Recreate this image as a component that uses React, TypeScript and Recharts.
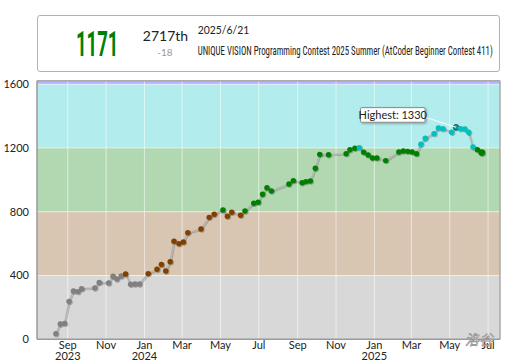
import React from "react";
import {
  LineChart,
  Line,
  XAxis,
  YAxis,
  ReferenceArea,
  ReferenceLine,
  ReferenceDot,
} from "recharts";

// ---------- data ----------
const contestDates = [
  "2023-08-13", "2023-08-20", "2023-08-27", "2023-09-03", "2023-09-10", "2023-09-17",
  "2023-09-23", "2023-10-14", "2023-10-21", "2023-11-05", "2023-11-12", "2023-11-18",
  "2023-11-25", "2023-12-02", "2023-12-10", "2023-12-17", "2023-12-24", "2024-01-07",
  "2024-01-21", "2024-01-28", "2024-02-04", "2024-02-11", "2024-02-17", "2024-02-25",
  "2024-03-03", "2024-03-10", "2024-03-31", "2024-04-13", "2024-04-21", "2024-05-05",
  "2024-05-12", "2024-05-19", "2024-06-02", "2024-06-09", "2024-06-23", "2024-06-30",
  "2024-07-07", "2024-07-14", "2024-07-21", "2024-08-18", "2024-08-25", "2024-09-08",
  "2024-09-14", "2024-09-21", "2024-09-29", "2024-10-06", "2024-10-20", "2024-11-17",
  "2024-11-23", "2024-12-01", "2024-12-08", "2024-12-15", "2024-12-22", "2024-12-29",
  "2025-01-05", "2025-01-19", "2025-02-09", "2025-02-16", "2025-02-23", "2025-03-02",
  "2025-03-09", "2025-03-16", "2025-03-23", "2025-04-06", "2025-04-13", "2025-04-20",
  "2025-05-04", "2025-05-11", "2025-05-18", "2025-05-25", "2025-05-31", "2025-06-07",
  "2025-06-14", "2025-06-21",
];

const ratings = [
  35, 96, 100, 238, 303, 299, 317, 322, 357, 353, 395, 378,
  397, 410, 345, 347, 347, 412, 439, 470, 428, 487, 615, 600,
  610, 669, 692, 765, 784, 811, 772, 797, 778, 805, 853, 860,
  910, 951, 930, 974, 995, 982, 989, 993, 1073, 1160, 1158, 1164,
  1189, 1198, 1202, 1173, 1156, 1137, 1137, 1121, 1175, 1181, 1179, 1175,
  1164, 1223, 1261, 1290, 1326, 1321, 1299, 1330, 1321, 1319, 1299, 1206,
  1189, 1171,
];

const bandBounds = [0, 400, 800, 1200, 1600, 2000];
const bandColors = ["#D8D8D8", "#D8C5B2", "#B2D8B2", "#B2ECEC", "#B2B2FF"];
const dotColors = ["#808080", "#804000", "#008000", "#00C0C0", "#0000FF"];
const yTicks = [0, 400, 800, 1200, 1600];
const monthTicks = [
  "2023-09-01", "2023-11-01", "2024-01-01", "2024-03-01", "2024-05-01", "2024-07-01",
  "2024-09-01", "2024-11-01", "2025-01-01", "2025-03-01", "2025-05-01", "2025-07-01",
];
const monthNames = ["Jan", "Feb", "Mar", "Apr", "May", "Jun", "Jul", "Aug", "Sep", "Oct", "Nov", "Dec"];

const headerRating = "1171";
const headerRank = "2717th";
const headerDiff = "-18";
const headerDate = "2025/6/21";
const headerContest = "UNIQUE VISION Programming Contest 2025 Summer (AtCoder Beginner Contest 411)";
const watermark = "洛谷";

const xStart = "2023-07-14";
const xEnd = "2025-07-20";
const yMax = 1622;

// ---------- helpers ----------
const DAY = 86400000;
const toDay = (s: string) => {
  const [y, m, d] = s.split("-").map(Number);
  return Date.UTC(y, m - 1, d) / DAY;
};

const data = contestDates.map((d, i) => ({ t: toDay(d), rating: ratings[i] }));
const tickDays = monthTicks.map(toDay);
const X_MIN = toDay(xStart);
const X_MAX = toDay(xEnd);

let highIdx = 0;
ratings.forEach((r, i) => {
  if (r > ratings[highIdx]) highIdx = i;
});

const colorFor = (r: number) => {
  for (let i = bandBounds.length - 2; i >= 0; i--) {
    if (r >= bandBounds[i]) return dotColors[i];
  }
  return dotColors[0];
};

const FONT = "Lato, 'DejaVu Sans', sans-serif";

const renderDot = (props: any) => {
  const { cx, cy, index, payload } = props;
  if (cx == null || cy == null) return <g key={`d${index}`} />;
  const isLast = index === data.length - 1;
  const isHigh = index === highIdx;
  return (
    <circle
      key={`d${index}`}
      cx={cx}
      cy={cy}
      r={isLast ? 3.4 : 2.7}
      fill={isHigh ? "#0E9E9E" : colorFor(payload.rating)}
      stroke={isHigh ? "#2a5555" : "none"}
      strokeWidth={isHigh ? 1 : 0}
      filter="url(#dotShadow)"
    />
  );
};

const XTick = (props: any) => {
  const { x, y, payload, index } = props;
  const dt = new Date(payload.value * DAY);
  const m = dt.getUTCMonth();
  const showYear = m === 0 || index === 0;
  return (
    <g>
      <text x={x} y={y + 10} textAnchor="middle" fontSize={11} fontFamily={FONT} fill="#222">
        {monthNames[m]}
      </text>
      {showYear && (
        <text x={x} y={y + 21} textAnchor="middle" fontSize={11} fontFamily={FONT} fill="#222">
          {dt.getUTCFullYear()}
        </text>
      )}
    </g>
  );
};

const HighestLabel = (props: any) => {
  const { cx, cy } = props;
  if (cx == null || cy == null) return <g />;
  const bx = cx - 95.5;
  const by = cy - 19.6;
  const bw = 64.5;
  const bh = 14.6;
  return (
    <g>
      <line x1={bx + bw} y1={by + bh * 0.65} x2={cx} y2={cy} stroke="#ffffff" strokeWidth={1} />
      <rect x={bx} y={by} width={bw} height={bh} fill="#fff" stroke="#888" strokeWidth={1} rx={1} filter="url(#boxShadow)" />
      <text x={bx + bw / 2} y={by + bh / 2 + 4} textAnchor="middle" fontSize={11} fontFamily={FONT} fill="#222">
        {`Highest: ${ratings[highIdx]}`}
      </text>
    </g>
  );
};

export default function App() {
  return (
    <div style={{ position: "absolute", left: 0, top: 0, width: 507, height: 361, background: "#fff", overflow: "hidden" }}>
      <svg width={0} height={0} style={{ position: "absolute" }}>
        <defs>
          <filter id="dotShadow" x="-50%" y="-50%" width="200%" height="200%">
            <feDropShadow dx="0.8" dy="0.8" stdDeviation="0.7" floodColor="#000" floodOpacity="0.35" />
          </filter>
          <filter id="lineShadow" x="-5%" y="-5%" width="110%" height="110%">
            <feDropShadow dx="0.8" dy="0.8" stdDeviation="0.7" floodColor="#000" floodOpacity="0.25" />
          </filter>
          <filter id="boxShadow" x="-20%" y="-50%" width="140%" height="200%">
            <feDropShadow dx="1" dy="1" stdDeviation="1" floodColor="#000" floodOpacity="0.3" />
          </filter>
        </defs>
      </svg>

      {/* header box */}
      <div
        style={{
          position: "absolute",
          left: 36.5,
          top: 15.3,
          width: 461.5,
          height: 54.5,
          border: "1.5px solid #8FCB8F",
          borderRadius: 3,
          background: "#fff",
        }}
      />
      <svg width={507} height={80} style={{ position: "absolute", left: 0, top: 0 }}>
        <text
          x={76}
          y={56}
          fontSize={35}
          fontWeight={700}
          fontFamily="Roboto, sans-serif"
          fill="#008000"
          textLength={42.5}
          lengthAdjust="spacingAndGlyphs"
        >
          {headerRating}
        </text>
        <text x={165.5} y={41} textAnchor="middle" fontSize={14} fontFamily={FONT} fill="#222">
          {headerRank}
        </text>
        <text x={165} y={56} textAnchor="middle" fontSize={10} fontFamily={FONT} fill="#999">
          {headerDiff}
        </text>
        <text x={197.7} y={34} fontSize={11} fontFamily={FONT} fill="#222" textLength={51.6} lengthAdjust="spacingAndGlyphs">
          {headerDate}
        </text>
        <text
          x={197.7}
          y={54.5}
          fontSize={13.5}
          fontFamily="'Roboto Condensed', Roboto, sans-serif"
          fill="#222"
          textLength={295}
          lengthAdjust="spacingAndGlyphs"
        >
          {headerContest}
        </text>
      </svg>

      <div style={{ position: "absolute", left: 0, top: 0 }}>
        <LineChart
          width={507}
          height={361}
          data={data}
          margin={{ top: 80.7, right: 7, bottom: 0, left: 0 }}
        >
          {bandColors.map((c, i) => (
            <ReferenceArea
              key={`band${i}`}
              y1={bandBounds[i]}
              y2={Math.min(bandBounds[i + 1], yMax)}
              x1={X_MIN}
              x2={X_MAX}
              fill={c}
              fillOpacity={1}
              stroke="none"
              ifOverflow="hidden"
            />
          ))}
          {tickDays.map((t) => (
            <ReferenceLine key={`vx${t}`} x={t} stroke="#ffffff" strokeOpacity={0.55} strokeWidth={1} />
          ))}
          {bandBounds.slice(1, 5).map((b) => (
            <ReferenceLine key={`hy${b}`} y={b} stroke="#ffffff" strokeOpacity={0.55} strokeWidth={1} />
          ))}
          <ReferenceLine y={yMax} stroke="#aaaaaa" strokeWidth={1.5} />
          <ReferenceLine x={X_MAX} stroke="#aaaaaa" strokeWidth={1.5} />
          <XAxis
            dataKey="t"
            type="number"
            domain={[X_MIN, X_MAX]}
            allowDataOverflow
            ticks={tickDays}
            tick={<XTick />}
            tickLine={false}
            tickSize={0}
            tickMargin={0}
            height={21.7}
            axisLine={{ stroke: "#9a9a9a", strokeWidth: 1.5 }}
            interval={0}
          />
          <YAxis
            type="number"
            domain={[0, yMax]}
            allowDataOverflow
            ticks={yTicks}
            width={37}
            tickLine={false}
            tickSize={0}
            tickMargin={8}
            tick={{ fontSize: 11, fontFamily: FONT, fill: "#222" }}
            axisLine={{ stroke: "#9a9a9a", strokeWidth: 1.5 }}
            interval={0}
          />
          <Line
            type="linear"
            dataKey="rating"
            stroke="#b4b4b4"
            strokeWidth={1.6}
            dot={renderDot}
            activeDot={false}
            isAnimationActive={false}
            filter="url(#lineShadow)"
          />
          <ReferenceDot
            x={data[highIdx].t}
            y={ratings[highIdx]}
            r={0}
            shape={<HighestLabel />}
            ifOverflow="visible"
          />
        </LineChart>
      </div>

      <svg width={507} height={361} style={{ position: "absolute", left: 0, top: 0, pointerEvents: "none" }}>
        <text
          x={479}
          y={345}
          textAnchor="middle"
          fontSize={14}
          fontStyle="italic"
          fontFamily="'Noto Sans CJK SC', sans-serif"
          fill="#ffffff"
          fillOpacity={0.85}
          stroke="#8a8a8a"
          strokeWidth={0.6}
        >
          {watermark}
        </text>
      </svg>
    </div>
  );
}
